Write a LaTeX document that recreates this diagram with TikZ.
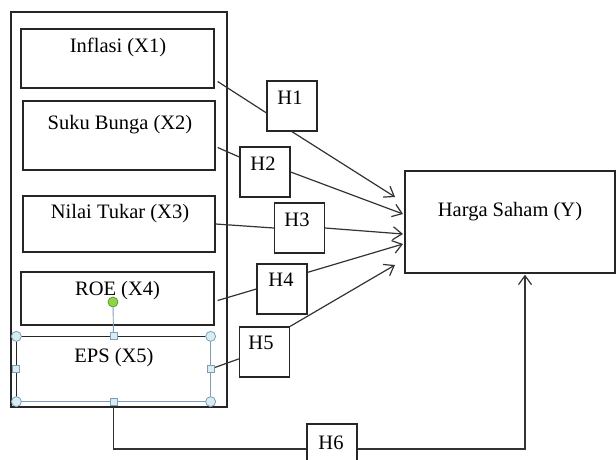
\documentclass[tikz,border=0pt]{standalone}
\usepackage{xcolor}
\usepackage{fontspec}
\setmainfont{Liberation Serif}
\usepackage{tikz}
\usetikzlibrary{arrows.meta,calc}

\definecolor{selline}{HTML}{7F9DB9}
\definecolor{selfill}{HTML}{D8ECF4}
\definecolor{rotfill}{HTML}{8ED34A}
\definecolor{rotline}{HTML}{5E9E2E}

\begin{document}
\begin{tikzpicture}[x=1pt, y=-1pt,
    box/.style={draw=black!85, line width=1.3pt, inner sep=0pt},
    hbox/.style={box, minimum width=50pt, minimum height=50pt},
    lbl/.style={font=\fontsize{20.5}{24}\selectfont, inner sep=0pt},
    link/.style={draw=black!80, line width=1.2pt},
    sel/.style={draw=selline, line width=0.9pt},
    knob/.style={circle, draw=selline, fill=selfill, minimum size=10pt, inner sep=0pt, line width=0.8pt},
    grip/.style={rectangle, draw=selline, fill=selfill, minimum size=7pt, inner sep=0pt, line width=0.8pt},
    >={Straight Barb[length=9pt,width=13pt]}]
    \useasboundingbox (0,0) rectangle (616,459);

    % variables X1..X5
    \node[box, minimum width=216pt, minimum height=395pt] (grp) at (119,209.5) {};
    \node[box, minimum width=193pt, minimum height=59pt] (x1) at (117.5,58.5) {};
    \node[box, minimum width=192pt, minimum height=69pt] (x2) at (119,135.5) {};
    \node[box, minimum width=192pt, minimum height=56pt] (x3) at (119,224) {};
    \node[box, minimum width=193pt, minimum height=53pt] (x4) at (117.5,298.5) {};
    \node[box, draw=none, minimum width=193pt, minimum height=64pt] (eps) at (113.5,369) {};
    \draw[box] (eps.south west) -- (eps.north west) -- (eps.north east);
    \draw[sel] (eps.north east) -- (eps.south east) -- (eps.south west);

    \node[lbl] (x1l) at (118,47) {Inflasi (X1)};
    \node[lbl] (x2l) at (120,125) {Suku Bunga (X2)};
    \node[lbl] (x3l) at (120,214) {Nilai Tukar (X3)};
    \node[lbl] (x4l) at (117.5,291) {ROE (X4)};
    \node[lbl] (epsl) at (114,358) {EPS (X5)};

    % Y
    \node[box, minimum width=210pt, minimum height=102pt] (hs) at (510,222) {};
    \node[lbl] (hsl) at (510,212) {Harga Saham (Y)};

    % hypotheses
    \node[hbox] (h1) at (292,106) {};
    \node[hbox] (h2) at (265,172) {};
    \node[hbox] (h3) at (299.5,228) {};
    \node[hbox] (h4) at (282,289) {};
    \node[hbox] (h5) at (264.5,352) {};
    \node[hbox] (h6) at (332,449) {};
    \node[lbl] (h1l) at (290,98) {H1};
    \node[lbl] (h2l) at (263,164) {H2};
    \node[lbl] (h3l) at (297,220) {H3};
    \node[lbl] (h4l) at (281,280) {H4};
    \node[lbl] (h5l) at (261,343) {H5};
    \node[lbl] (h6l) at (331,443) {H6};

    \coordinate (t1) at (395,197);
    \coordinate (t2) at (403,214);
    \coordinate (t3) at (403,234);
    \coordinate (t4) at (403,244);
    \coordinate (t5) at (395,265);

    \draw[link] ($(x1.east)+(3,23)$) -- (h1.195);
    \draw[link,->] (h1.south) -- (t1);
    \draw[link] ($(x2.east)+(2,12)$) -- ($(h2.west)+(0,-15)$);
    \draw[link,->] (h2.east) -- (t2);
    \draw[link] (x3.east) -- (h3.west);
    \draw[link,->] (h3.east) -- (t3);
    \draw[link] ($(x4.east)+(3,2)$) -- (h4.west);
    \draw[link,->] (h4.33) -- (t4);
    \draw[link] (eps.east) -- (h5.195);
    \draw[link,->] (h5.north east) -- (t5);
    \draw[link] (eps.south) |- (h6.west);
    \draw[link,->,shorten >=1pt] (h6.east) -| ($(hs.south)+(15,0)$);

    % selection handles
    \node[knob, fill=rotfill, draw=rotline] (rot) at (113,302) {};
    \draw[sel] (rot) -- (eps.north);
    \node[knob] (k1) at (eps.north west) {};
    \node[knob] (k2) at (eps.north east) {};
    \node[knob] (k3) at (eps.south west) {};
    \node[knob] (k4) at (eps.south east) {};
    \node[grip] (g1) at (eps.north) {};
    \node[grip] (g2) at (eps.south) {};
    \node[grip] (g3) at (eps.west) {};
    \node[grip] (g4) at (eps.east) {};
\end{tikzpicture}
\end{document}
